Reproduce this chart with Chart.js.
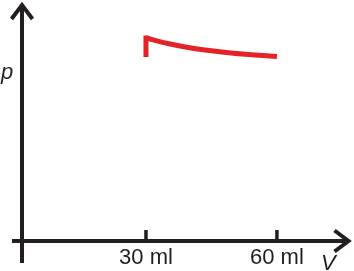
<!DOCTYPE html>
<html><head><meta charset="utf-8">
<script src="https://cdn.jsdelivr.net/npm/chart.js@4"></script>
<style>html,body{margin:0;padding:0;background:#fff;overflow:hidden}#wrap{width:354px;height:271px;position:relative}</style>
</head><body><div id="wrap"><canvas id="c" width="354" height="271"></canvas></div>
<script>
// Data (pressure in arbitrary units)
const tickValues = [30, 60];
const tickLabels = ['30 ml', '60 ml'];
const volumeRise = [30, 30];
const pressureRise = [186.5, 203];
const volumeCurve = [30, 35, 40, 45, 50, 55, 60];
const pressureCurve = [203, 197.5, 193.3, 190.2, 187.8, 186, 184.5];
const xAxisTitle = 'V';
const yAxisTitle = 'p';

const INK = '#231f20';
const RED = '#e32229';

const axesPlugin = {
  id: 'axesArrows',
  afterDraw(chart) {
    const {ctx, chartArea: a, scales: {x, y}} = chart;
    const x0 = a.left;
    const y0 = y.getPixelForValue(0);
    ctx.save();
    ctx.strokeStyle = INK;
    ctx.lineWidth = 4;
    ctx.lineCap = 'butt';
    ctx.lineJoin = 'miter';
    // y axis
    const tipY = a.top + 3;
    ctx.beginPath(); ctx.moveTo(x0, 263); ctx.lineTo(x0, tipY); ctx.stroke();
    ctx.beginPath(); ctx.moveTo(x0 - 10.5, tipY + 14); ctx.lineTo(x0, tipY); ctx.lineTo(x0 + 10.5, tipY + 14); ctx.stroke();
    // x axis
    const tipX = a.right - 3.5;
    ctx.beginPath(); ctx.moveTo(12, y0); ctx.lineTo(tipX, y0); ctx.stroke();
    ctx.beginPath(); ctx.moveTo(tipX - 14, y0 - 10.5); ctx.lineTo(tipX, y0); ctx.lineTo(tipX - 14, y0 + 10.5); ctx.stroke();
    // upward tick marks
    ctx.lineWidth = 3.5;
    tickValues.forEach(v => {
      const px = x.getPixelForValue(v);
      ctx.beginPath(); ctx.moveTo(px, y0); ctx.lineTo(px, y0 - 11); ctx.stroke();
    });
    // axis titles
    ctx.fillStyle = INK;
    ctx.font = 'italic 22px "Liberation Sans", Arial, sans-serif';
    ctx.textBaseline = 'alphabetic';
    ctx.textAlign = 'left';
    ctx.fillText(yAxisTitle, 1, 79);
    ctx.fillText(xAxisTitle, 321, 270);
    ctx.restore();
  }
};

new Chart(document.getElementById('c'), {
  type: 'line',
  data: {
    datasets: [
      {
        data: volumeRise.map((v, i) => ({x: v, y: pressureRise[i]})),
        borderColor: RED, borderWidth: 5, pointRadius: 0, tension: 0,
        borderCapStyle: 'square', fill: false
      },
      {
        data: volumeCurve.map((v, i) => ({x: v, y: pressureCurve[i]})),
        borderColor: RED, borderWidth: 5, pointRadius: 0,
        cubicInterpolationMode: 'monotone', borderCapStyle: 'butt', fill: false
      }
    ]
  },
  options: {
    responsive: false,
    animation: false,
    devicePixelRatio: 1,
    layout: {padding: {left: 22, right: 2, top: 2, bottom: 0}},
    plugins: {legend: {display: false}, tooltip: {enabled: false}},
    scales: {
      x: {
        type: 'linear', min: 1.6, max: 77.2,
        afterBuildTicks: s => { s.ticks = tickValues.map(v => ({value: v})); },
        afterFit: s => { s.height = 30; },
        ticks: {
          callback: v => tickLabels[tickValues.indexOf(v)],
          font: {family: '"Liberation Sans", Arial, sans-serif', size: 22},
          color: INK, padding: 4, autoSkip: false, maxRotation: 0
        },
        grid: {display: false, drawTicks: false},
        border: {display: false}
      },
      y: {type: 'linear', min: 0, max: 239, display: false}
    }
  },
  plugins: [axesPlugin]
});
</script>
</body></html>
